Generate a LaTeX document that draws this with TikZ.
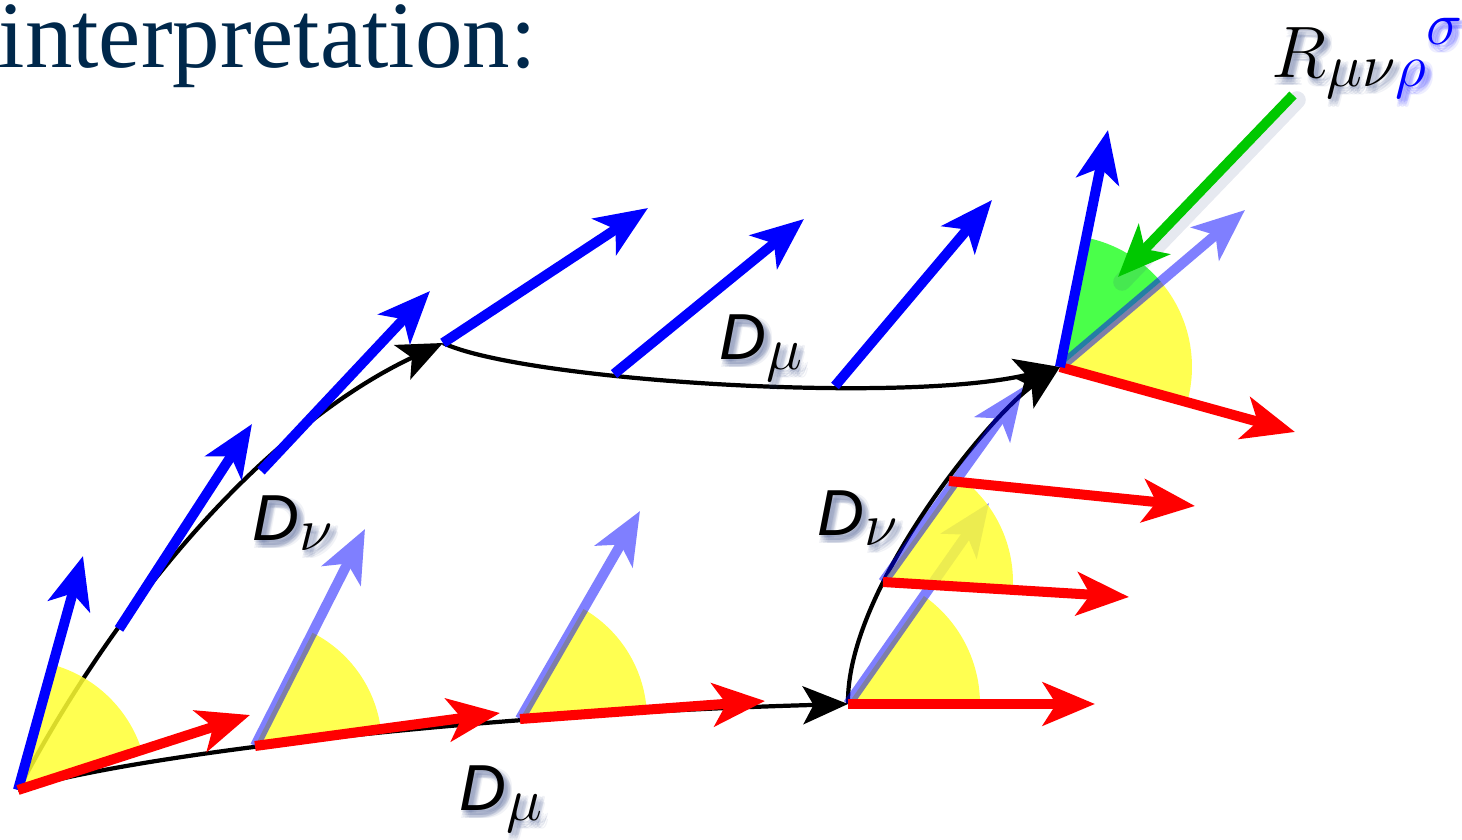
\documentclass[tikz,border=0pt]{standalone}
\usepackage{fontspec}
\setmainfont{Liberation Serif}
\setsansfont{Liberation Sans}
\usetikzlibrary{arrows.meta}
\definecolor{navy}{RGB}{0,40,75}
\definecolor{myyellow}{RGB}{255,255,50}
\definecolor{mygreen}{RGB}{64,255,64}
\definecolor{arrgreen}{RGB}{0,200,0}
\definecolor{glowc}{RGB}{50,70,130}
\newcommand\dlab{\fontsize{18.5}{20}\selectfont\sffamily\itshape}
\newcommand\glowlabel[3]{%
  \foreach \gx/\gy in {4/5,1/5,7/5,4/2,4/8,2/3,6/3,2/7,6/7,0/2,8/8,0/8,8/2}{%
    \node[lab,text=glowc,text opacity=0.07] at ([shift={(\gx,\gy)}]#2) {#3};}
  \node[lab] (#1) at (#2) {#3};}
\begin{document}
\begin{tikzpicture}[x=0.01cm,y=-0.01cm,
  curve/.style={line width=1.2pt,-{Stealth[length=12.8pt,width=10.8pt,inset=3pt]}},
  vec/.style={line width=2.85pt,-{Stealth[length=14.8pt,width=12.2pt,inset=3.8pt]}},
  bvec/.style={vec,blue},
  lvec/.style={vec,blue},
  rvec/.style={vec,red},
  gvec/.style={vec,arrgreen},
  sect/.style={fill=myyellow,fill opacity=0.85},
  gsect/.style={fill=mygreen,fill opacity=0.95},
  lgroup/.style={transparency group,opacity=0.5},
  lab/.style={inner sep=0,anchor=base west}]
\useasboundingbox (0,0) rectangle (1462,840);

% base points
\coordinate (A) at (18,790);
\coordinate (B) at (848,704);
\coordinate (C) at (443,343);
\coordinate (D) at (1060,367);
% vector coordinates
\coordinate (bA) at (83,556);
\coordinate (rA) at (250,715);
\coordinate (p1) at (119,629); \coordinate (b1) at (252,424);
\coordinate (p2) at (261,471); \coordinate (b2) at (430,291);
\coordinate (b3) at (648,208);
\coordinate (p4) at (614,374); \coordinate (b4) at (804,219);
\coordinate (p5) at (835,386); \coordinate (b5) at (992,200);
\coordinate (b6) at (1108,130);
\coordinate (q1) at (255,746); \coordinate (l1) at (365,529); \coordinate (r1) at (500,713);
\coordinate (q2) at (520,719); \coordinate (l2) at (640,511); \coordinate (r2) at (765,701);
\coordinate (l3) at (989,503); \coordinate (r3) at (1095,704);
\coordinate (q4) at (883,582); \coordinate (l4) at (1023,387); \coordinate (r4) at (1129,597);
\coordinate (q5) at (949,481); \coordinate (r5) at (1195,506);
\coordinate (l5) at (1245,210); \coordinate (r6) at (1295,432);
\coordinate (gs) at (1293,95); \coordinate (ge) at (1118,277);

% black paths
\draw[curve] (A) .. controls (120,758) and (450,715) .. (B);
\draw[curve] (A) .. controls (115,605) and (263,428) .. (C);
\draw[curve] (C) .. controls (520,380) and (900,405) .. (D);
\draw[curve] (B) .. controls (846,590) and (990,415) .. (D);

% yellow sectors
\fill[sect] (A) -- ++(-17.9:130) arc[start angle=-17.9, end angle=-74.5, radius=130] -- cycle;
\fill[sect] (q1) -- ++(-7.7:127) arc[start angle=-7.7, end angle=-63.1, radius=127] -- cycle;
\fill[sect] (q2) -- ++(-4.2:127) arc[start angle=-4.2, end angle=-60, radius=127] -- cycle;
\fill[sect] (B) -- ++(0:132) arc[start angle=0, end angle=-54.9, radius=132] -- cycle;

% light blue (transported along the bottom path)
\begin{scope}[lgroup]
\draw[lvec] (q1) -- (l1);
\draw[lvec] (q2) -- (l2);
\draw[lvec] (B) -- (l3);
\end{scope}

\fill[sect] (q4) -- ++(3.5:130) arc[start angle=3.5, end angle=-54.3, radius=130] -- cycle;
\fill[sect] (D) -- ++(15.5:132) arc[start angle=15.5, end angle=-40.3, radius=132] -- cycle;
\fill[gsect] (D) -- ++(-40.3:132) arc[start angle=-40.3, end angle=-78.6, radius=132] -- cycle;

\begin{scope}[lgroup]
\draw[lvec] (q4) -- (l4);
\draw[lvec] (D) -- (l5);
\end{scope}

% blue vectors (transported along the left and top path)
\draw[bvec] (A) -- (bA);
\draw[bvec] (p1) -- (b1);
\draw[bvec] (p2) -- (b2);
\draw[bvec] (C) -- (b3);
\draw[bvec] (p4) -- (b4);
\draw[bvec] (p5) -- (b5);

% red vectors
\draw[rvec] (A) -- (rA);
\draw[rvec] (q1) -- (r1);
\draw[rvec] (q2) -- (r2);
\draw[rvec] (B) -- (r3);
\draw[rvec] (q4) -- (r4);
\draw[rvec] (q5) -- (r5);
\draw[rvec] (D) -- (r6);

\draw[bvec] (D) -- (b6);

% green pointer with soft shadow
\draw[line width=5pt,glowc,opacity=0.12,line cap=round] ([shift={(4,5)}]gs) -- ([shift={(4,5)}]ge);
\draw[gvec] (gs) -- (ge);

% title
\node[inner sep=0,anchor=base west,text=navy,font=\fontsize{27}{30}\selectfont] (title) at (-2,68) {interpretation:};

% labels
\coordinate (nu1) at (252,541);
\coordinate (nu2) at (817,536);
\coordinate (mu1) at (719,360);
\coordinate (mu2) at (459,811);
\coordinate (Rpos) at (1271,78);
\glowlabel{Dnu1}{nu1}{\dlab D$_{\textstyle\nu}$}
\glowlabel{Dnu2}{nu2}{\dlab D$_{\textstyle\nu}$}
\glowlabel{Dmu1}{mu1}{\dlab D$_{\textstyle\mu}$}
\glowlabel{Dmu2}{mu2}{\dlab D$_{\textstyle\mu}$}
\glowlabel{Rlab}{Rpos}{\fontsize{22}{24}\selectfont$R$\raisebox{-2.3pt}{\fontsize{17}{19}\selectfont$\mu\nu\textcolor{blue}{\rho}$}\raisebox{9.4pt}{\fontsize{17}{19}\selectfont$\textcolor{blue}{\sigma}$}}
\end{tikzpicture}
\end{document}
